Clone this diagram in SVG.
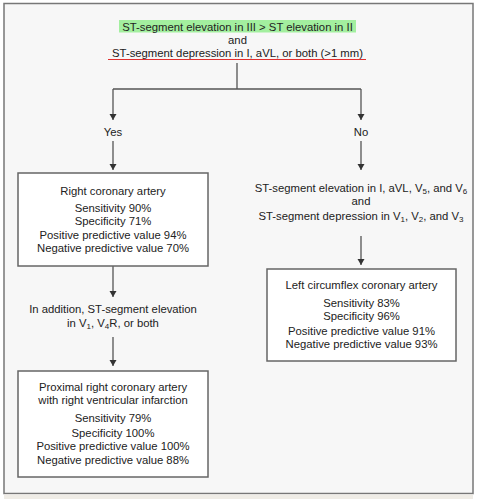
<svg xmlns="http://www.w3.org/2000/svg" width="480" height="499" viewBox="0 0 480 499">
<style>
text{font-family:"Liberation Sans",Arial,sans-serif;font-size:11.3px;fill:#222;text-anchor:middle}
.box{fill:#fff;stroke:#666;stroke-width:1.5}
.ln{fill:none;stroke:#555;stroke-width:1.3}
.sub{font-size:8px}
</style>
<defs>
<marker id="ah" viewBox="0 0 6 10" refX="6" refY="5" markerWidth="6" markerHeight="10" markerUnits="userSpaceOnUse" orient="auto">
<path d="M0,1.5 L6,5 L0,8.5 Z" fill="#333"/>
</marker>
</defs>
<rect x="0" y="0" width="480" height="499" fill="#fff"/>
<rect x="4" y="3.5" width="469" height="490" fill="#f7f7f7" stroke="#777" stroke-width="1.5"/>
<rect x="4" y="494.5" width="469" height="5" fill="#efece6"/>

<g id="start">
<rect x="119" y="20" width="237" height="12.5" fill="#a3ef9f"/>
<text x="237.5" y="30.5">ST-segment elevation in III &gt; ST elevation in II</text>
<text x="237.5" y="43.5">and</text>
<text x="237.5" y="57">ST-segment depression in I, aVL, or both (&gt;1 mm)</text>
<line x1="108" y1="59.5" x2="366" y2="59.5" stroke="#e0302f" stroke-width="1.2"/>
</g>

<g id="connectors">
<path class="ln" d="M237,63 V89 M113,89 H361"/>
<path class="ln" d="M113,89 V120" marker-end="url(#ah)"/>
<path class="ln" d="M361,89 V120" marker-end="url(#ah)"/>
<path class="ln" d="M113,141 V170" marker-end="url(#ah)"/>
<path class="ln" d="M361,141 V170" marker-end="url(#ah)"/>
<path class="ln" d="M361,236 V265" marker-end="url(#ah)"/>
<path class="ln" d="M113,266 V297" marker-end="url(#ah)"/>
<path class="ln" d="M113,337 V366" marker-end="url(#ah)"/>
</g>

<g id="yes"><text x="113" y="136">Yes</text></g>
<g id="no"><text x="361" y="136">No</text></g>

<g id="rca">
<rect class="box" x="18" y="173" width="190" height="93"/>
<text x="113" y="195">Right coronary artery</text>
<text x="113" y="212">Sensitivity 90%</text>
<text x="113" y="225">Specificity 71%</text>
<text x="113" y="239">Positive predictive value 94%</text>
<text x="113" y="252">Negative predictive value 70%</text>
</g>

<g id="lcx-criteria">
<text x="361" y="192">ST-segment elevation in I, aVL, V<tspan class="sub" dy="2">5</tspan><tspan dy="-2">, and V</tspan><tspan class="sub" dy="2">6</tspan></text>
<text x="361" y="205">and</text>
<text x="361" y="220">ST-segment depression in V<tspan class="sub" dy="2">1</tspan><tspan dy="-2">, V</tspan><tspan class="sub" dy="2">2</tspan><tspan dy="-2">, and V</tspan><tspan class="sub" dy="2">3</tspan></text>
</g>

<g id="lcx">
<rect class="box" x="267" y="269" width="189" height="92"/>
<text x="361.5" y="289">Left circumflex coronary artery</text>
<text x="361.5" y="307">Sensitivity 83%</text>
<text x="361.5" y="320">Specificity 96%</text>
<text x="361.5" y="335">Positive predictive value 91%</text>
<text x="361.5" y="348">Negative predictive value 93%</text>
</g>

<g id="rca-criteria">
<text x="113" y="313">In addition, ST-segment elevation</text>
<text x="113" y="327">in V<tspan class="sub" dy="2">1</tspan><tspan dy="-2">, V</tspan><tspan class="sub" dy="2">4</tspan><tspan dy="-2">R, or both</tspan></text>
</g>

<g id="proximal">
<rect class="box" x="18" y="371" width="190" height="106"/>
<text x="113" y="391">Proximal right coronary artery</text>
<text x="113" y="404">with right ventricular infarction</text>
<text x="113" y="422">Sensitivity 79%</text>
<text x="113" y="437">Specificity 100%</text>
<text x="113" y="450">Positive predictive value 100%</text>
<text x="113" y="464">Negative predictive value 88%</text>
</g>
</svg>
